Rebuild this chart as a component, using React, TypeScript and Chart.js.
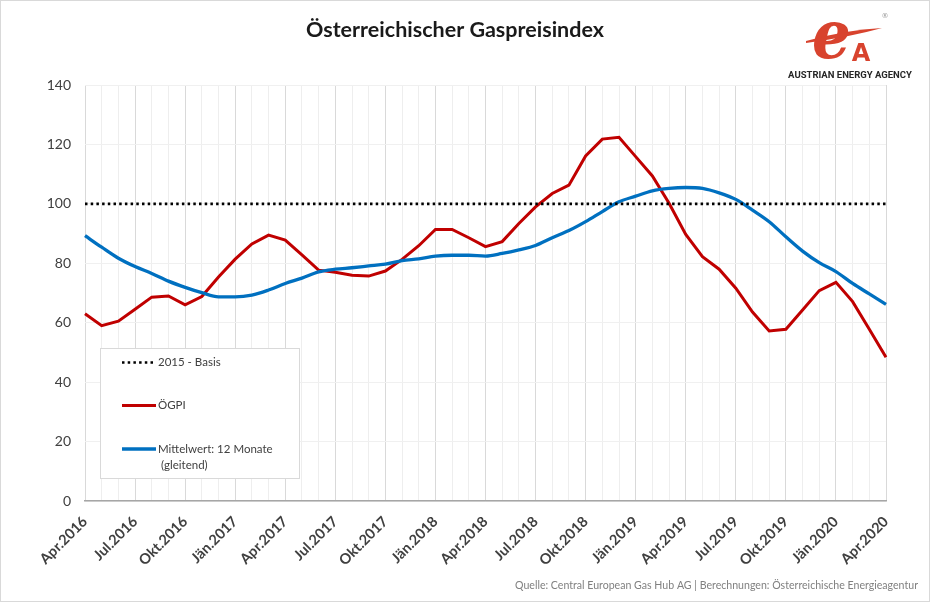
import React, { useEffect, useRef } from "react";
import { Chart, registerables } from "chart.js";

Chart.register(...registerables);

const categories = [
  "Apr.2016", "Mai.2016", "Jun.2016", "Jul.2016", "Aug.2016", "Sep.2016", "Okt.2016", "Nov.2016", "Dez.2016",
  "Jän.2017", "Feb.2017", "Mär.2017", "Apr.2017", "Mai.2017", "Jun.2017", "Jul.2017", "Aug.2017", "Sep.2017", "Okt.2017", "Nov.2017", "Dez.2017",
  "Jän.2018", "Feb.2018", "Mär.2018", "Apr.2018", "Mai.2018", "Jun.2018", "Jul.2018", "Aug.2018", "Sep.2018", "Okt.2018", "Nov.2018", "Dez.2018",
  "Jän.2019", "Feb.2019", "Mär.2019", "Apr.2019", "Mai.2019", "Jun.2019", "Jul.2019", "Aug.2019", "Sep.2019", "Okt.2019", "Nov.2019", "Dez.2019",
  "Jän.2020", "Feb.2020", "Mär.2020", "Apr.2020",
];

const oegpi = [
  63.0, 59.0, 60.5, 64.5, 68.6, 69.0, 66.0, 68.8, 75.4,
  81.4, 86.5, 89.5, 87.8, 82.8, 77.7, 77.0, 76.0, 75.7, 77.4, 81.3, 85.9,
  91.4, 91.4, 88.6, 85.6, 87.3, 93.4, 99.0, 103.5, 106.3, 116.1, 121.8, 122.4,
  115.9, 109.4, 100.2, 89.7, 82.2, 78.0, 71.6, 63.6, 57.2, 57.8, 64.3, 70.8,
  73.6, 67.1, 57.8, 48.4,
];

const mittelwert = [
  89.3, 85.4, 81.7, 78.9, 76.6, 74.0, 71.9, 70.1, 68.7,
  68.7, 69.3, 71.0, 73.2, 75.0, 77.1, 78.0, 78.5, 79.1, 79.7, 80.9, 81.5,
  82.4, 82.7, 82.7, 82.4, 83.3, 84.5, 86.0, 88.6, 91.0, 94.0, 97.4, 100.7,
  102.6, 104.4, 105.2, 105.5, 105.2, 103.7, 101.5, 97.9, 94.0, 88.9, 84.1, 80.2,
  77.2, 73.2, 69.7, 66.2,
];

const BASIS = 100;
const yTicks = [0, 20, 40, 60, 80, 100, 120, 140];

const TITLE = "Österreichischer Gaspreisindex";
const SOURCE = "Quelle: Central European Gas Hub AG | Berechnungen: Österreichische Energieagentur";
const AGENCY = "AUSTRIAN ENERGY AGENCY";

const decorPlugin = {
  id: "decor",
  afterDraw(chart: any) {
    const ctx = chart.ctx as CanvasRenderingContext2D;
    ctx.save();
    // frame
    ctx.strokeStyle = "#d9d9d9";
    ctx.lineWidth = 1;
    ctx.strokeRect(0.5, 0.5, chart.width - 1, chart.height - 1);

    // title
    ctx.fillStyle = "#1a1a1a";
    ctx.font = 'bold 21.5px Lato';
    ctx.textAlign = "center";
    ctx.textBaseline = "middle";
    ctx.fillText(TITLE, 455, 30);

    // source
    ctx.fillStyle = "#808080";
    ctx.font = '11px Lato';
    ctx.textAlign = "right";
    ctx.textBaseline = "middle";
    ctx.fillText(SOURCE, 918, 585, 403);

    // logo
    ctx.fillStyle = "#d8432e";
    ctx.save();
    ctx.translate(812, 58);
    ctx.scale(1.45, 1.6);
    ctx.font = 'italic bold 42px "DejaVu Serif"';
    ctx.textAlign = "left";
    ctx.textBaseline = "alphabetic";
    ctx.fillText("e", 0, 0);
    ctx.restore();
    ctx.beginPath();
    ctx.moveTo(806, 41);
    ctx.quadraticCurveTo(845, 30, 882, 28);
    ctx.quadraticCurveTo(850, 37, 806, 43);
    ctx.closePath();
    ctx.fill();
    ctx.font = 'bold 24px "DejaVu Sans"';
    ctx.textAlign = "center";
    ctx.textBaseline = "alphabetic";
    ctx.fillText("A", 861, 61);
    ctx.fillStyle = "#999999";
    ctx.font = '7px "DejaVu Sans"';
    ctx.fillText("®", 885, 18);
    ctx.fillStyle = "#262626";
    ctx.font = 'bold 9.5px Roboto';
    ctx.textAlign = "center";
    ctx.textBaseline = "middle";
    ctx.fillText(AGENCY, 850, 75.5, 126);

    // legend
    const bx = 100, by = 348, bw = 199, bh = 130;
    ctx.fillStyle = "#ffffff";
    ctx.fillRect(bx, by, bw, bh);
    ctx.strokeStyle = "#d9d9d9";
    ctx.strokeRect(bx + 0.5, by + 0.5, bw, bh);
    const rows = [362.5, 405.5, 449];
    chart.data.datasets.forEach((ds: any, i: number) => {
      const y = rows[i];
      ctx.save();
      ctx.strokeStyle = ds.borderColor;
      ctx.lineWidth = ds.borderWidth;
      ctx.setLineDash(ds.borderDash || []);
      ctx.beginPath();
      ctx.moveTo(122, y);
      ctx.lineTo(156, y);
      ctx.stroke();
      ctx.restore();
      ctx.fillStyle = "#404040";
      ctx.font = '11.5px Lato';
      ctx.textAlign = "left";
      ctx.textBaseline = "middle";
      const lines = String(ds.label).split("\n");
      lines.forEach((ln: string, k: number) => {
        ctx.fillText(ln, k === 0 ? 158 : 161, y + k * 16);
      });
    });
    ctx.restore();
  },
};

export default function App() {
  const ref = useRef<HTMLCanvasElement | null>(null);
  useEffect(() => {
    document.body.style.margin = "0";
    const canvas = ref.current!;
    const chart = new Chart(canvas, {
      type: "line",
      data: {
        labels: categories,
        datasets: [
          {
            label: "2015 - Basis",
            data: [
              { x: categories[0], y: BASIS },
              { x: categories[categories.length - 1], y: BASIS },
            ] as any,
            borderColor: "#000000",
            borderWidth: 2.6,
            borderDash: [2.5, 3.2],
            pointRadius: 0,
            fill: false,
            order: 0,
          },
          {
            label: "ÖGPI",
            data: oegpi,
            borderColor: "#c00000",
            borderWidth: 3,
            pointRadius: 0,
            tension: 0,
            fill: false,
            order: 2,
          },
          {
            label: "Mittelwert: 12 Monate\n(gleitend)",
            data: mittelwert,
            borderColor: "#0070c0",
            borderWidth: 3.3,
            pointRadius: 0,
            tension: 0.4,
            cubicInterpolationMode: "monotone",
            fill: false,
            order: 1,
          },
        ],
      },
      options: {
        animation: false,
        responsive: false,
        maintainAspectRatio: false,
        layout: { padding: { top: 85, right: 44, bottom: 0, left: 0 } },
        plugins: {
          legend: { display: false },
          title: { display: false },
          tooltip: { enabled: false },
        },
        scales: {
          x: {
            type: "category",
            offset: false,
            grid: {
              color: (c: any) => (c.index % 3 === 0 ? "#d9d9d9" : "#eeeeee"),
              lineWidth: 1,
              drawTicks: false,
            },
            border: { display: true, color: "#a6a6a6", width: 1.5 },
            ticks: {
              autoSkip: false,
              maxRotation: 45,
              minRotation: 45,
              padding: 12,
              color: "#404040",
              font: { family: "Lato", size: 14.5, weight: "bold" },
              callback: (_v: any, i: number) => (i % 3 === 0 ? categories[i] : ""),
            },
            afterFit: (s: any) => {
              s.height = 101;
            },
          },
          y: {
            min: yTicks[0],
            max: yTicks[yTicks.length - 1],
            afterBuildTicks: (s: any) => {
              s.ticks = yTicks.map((v) => ({ value: v }));
            },
            grid: { color: "#f0f0f0", drawTicks: false },
            border: { display: false },
            ticks: {
              padding: 14,
              color: "#404040",
              font: { family: "Lato", size: 14 },
            },
            afterFit: (s: any) => {
              s.width = 85;
            },
          },
        },
      },
      plugins: [decorPlugin],
    });
    return () => chart.destroy();
  }, []);
  return (
    <div style={{ position: "relative", width: 930, height: 602 }}>
      <canvas ref={ref} width={930} height={602} style={{ display: "block" }} />
    </div>
  );
}
